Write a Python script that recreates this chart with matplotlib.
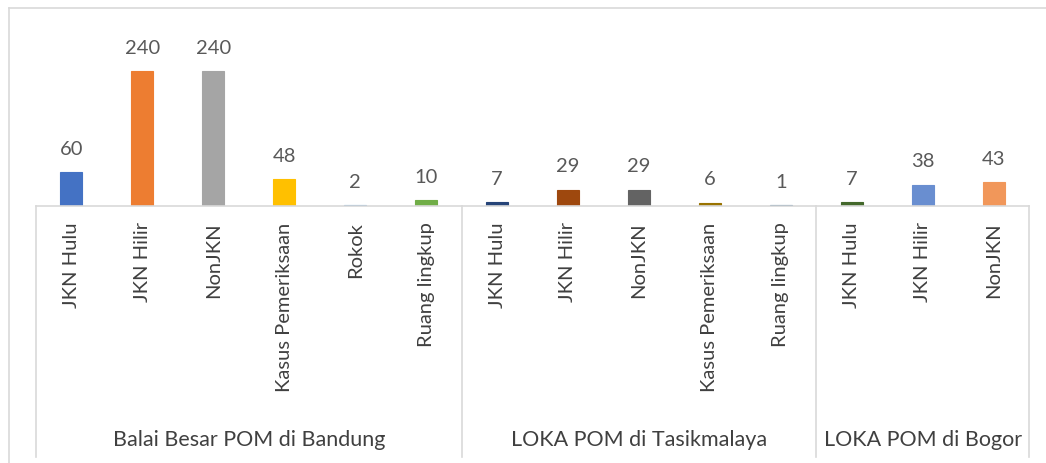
import matplotlib.pyplot as plt
from matplotlib.transforms import blended_transform_factory
from matplotlib.lines import Line2D

plt.rcParams['font.family'] = ['Lato', 'DejaVu Sans']

groups = ["Balai Besar POM di Bandung", "LOKA POM di Tasikmalaya", "LOKA POM di Bogor"]
group_sizes = [6, 5, 3]
categories = ["JKN Hulu", "JKN Hilir", "NonJKN", "Kasus Pemeriksaan", "Rokok", "Ruang lingkup",
              "JKN Hulu", "JKN Hilir", "NonJKN", "Kasus Pemeriksaan", "Ruang lingkup",
              "JKN Hulu", "JKN Hilir", "NonJKN"]
values = [60, 240, 240, 48, 2, 10, 7, 29, 29, 6, 1, 7, 38, 43]
colors = ["#4472C4", "#ED7D31", "#A5A5A5", "#FFC000", "#5B9BD5", "#70AD47",
          "#264478", "#9E480E", "#636363", "#997300", "#255E91",
          "#43682B", "#698ED0", "#F1975A"]

W, H = 1046, 464
fig = plt.figure(figsize=(W / 100, H / 100), dpi=100)
# plot area: x 36..1029 px, y 20..207 px (from top)
ax = fig.add_axes([36 / W, (H - 207) / H, (1029 - 36) / W, (207 - 20) / H])

x = list(range(len(values)))
ax.bar(x, values, width=0.31, color=colors, edgecolor=colors, linewidth=0.8)
ax.set_xlim(-0.5, len(values) - 0.5)
ax.set_ylim(0, 332)

for xi, v in zip(x, values):
    ax.annotate(str(v), (xi, v), xytext=(0, 11), textcoords="offset points",
                ha="center", va="bottom", fontsize=14.5, color="#595959")

for s in ax.spines.values():
    s.set_visible(False)
ax.set_yticks([])
ax.set_xticks(x)
ax.set_xticklabels(categories, rotation=90, fontsize=14.5, color="#404040", va="top")
ax.tick_params(axis="x", length=0, pad=11)

grid = "#D9D9D9"
tr = blended_transform_factory(ax.transData, fig.transFigure)
y_top = (H - 207) / H
y_bot = (H - 458) / H
# horizontal axis line
fig.add_artist(Line2D([-0.5, len(values) - 0.5], [y_top, y_top], transform=tr, color=grid, lw=1.2))
# group separators and group labels
bounds = [-0.5]
for n in group_sizes:
    bounds.append(bounds[-1] + n)
for b in bounds:
    fig.add_artist(Line2D([b, b], [y_top, y_bot], transform=tr, color=grid, lw=1.2))
for g, a, b in zip(groups, bounds[:-1], bounds[1:]):
    fig.text((a + b) / 2, (H - 440) / H, g, transform=tr, ha="center", va="center",
             fontsize=15.5, color="#404040")

# outer chart border
fig.add_artist(Line2D([9 / W, 1.0], [(H - 9) / H, (H - 9) / H], transform=fig.transFigure, color=grid, lw=1.2))
fig.add_artist(Line2D([9 / W, 9 / W], [(H - 9) / H, 0], transform=fig.transFigure, color=grid, lw=1.2))

fig.savefig("out.png", dpi=100, facecolor="white")
plt.close(fig)
